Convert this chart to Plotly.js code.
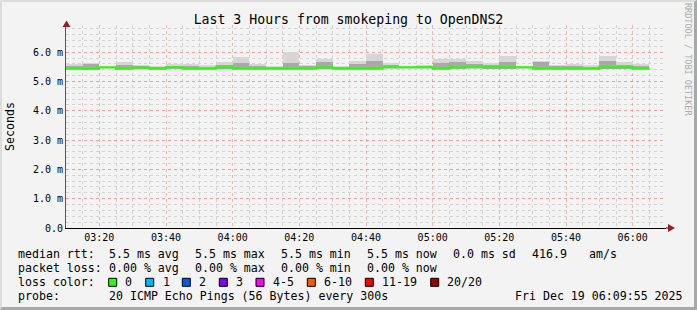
<!DOCTYPE html>
<html><head><meta charset="utf-8">
<script src="https://cdn.plot.ly/plotly-3.0.1.min.js"></script>
<style>
html,body{margin:0;padding:0;background:#f3f3f3}
#wrap{position:relative;width:697px;height:310px}
#chart{width:697px;height:310px}
#frame{position:absolute;left:0;top:0;width:697px;height:310px;box-sizing:border-box;border-top:2px solid #dcdcdc;border-left:2px solid #dcdcdc;border-right:3px solid #a8a8a8;border-bottom:3px solid #a8a8a8;pointer-events:none}
</style></head><body>
<div id="wrap"><div id="chart"></div><div id="frame"></div></div>
<script>
// ---- data (milliseconds, 5-minute steps) ----
const day = '2025-12-19 ';
const slotStarts = ['03:10','03:15','03:20','03:25','03:30','03:35','03:40','03:45','03:50','03:55',
  '04:00','04:05','04:10','04:15','04:20','04:25','04:30','04:35','04:40','04:45',
  '04:50','04:55','05:00','05:05','05:10','05:15','05:20','05:25','05:30','05:35',
  '05:40','05:45','05:50','05:55','06:00'];
const medianRtt = [5.44,5.44,5.49,5.44,5.48,5.44,5.49,5.44,5.44,5.49,
  5.44,5.44,5.44,5.44,5.44,5.49,5.44,5.44,5.44,5.49,
  5.49,5.49,5.44,5.49,5.49,5.49,5.49,5.49,5.44,5.44,
  5.44,5.44,5.49,5.49,5.44];
const smokeMin = [5.40,5.38,5.43,5.41,5.40,5.41,5.42,5.40,5.41,5.40,
  5.41,5.41,5.41,5.41,5.41,5.40,5.41,5.41,5.40,5.43,
  5.43,5.43,5.41,5.42,5.43,5.42,5.42,5.44,5.40,5.41,
  5.41,5.41,5.42,5.42,5.40];
const smokeMax = [5.60,5.62,5.52,5.65,5.58,5.52,5.60,5.60,5.55,5.68,
  5.83,5.60,5.52,6.00,5.58,5.77,5.52,5.71,5.94,5.62,
  5.53,5.58,5.77,5.77,5.69,5.62,5.86,5.52,5.71,5.57,
  5.60,5.55,5.86,5.65,5.60];
const smokeCoreHi = [5.52,5.60,5.51,5.55,5.52,5.48,5.54,5.54,5.50,5.58,
  5.62,5.54,5.48,5.62,5.52,5.68,5.48,5.60,5.70,5.56,
  5.51,5.53,5.62,5.66,5.60,5.56,5.68,5.51,5.68,5.52,
  5.54,5.50,5.70,5.58,5.54];
const yTickVals = [0,1,2,3,4,5,6];
const yTickText = ['0.0','1.0 m','2.0 m','3.0 m','4.0 m','5.0 m','6.0 m'];
const lossLabels = ['0','1','2','3','4-5','6-10','11-19','20/20'];
const lossColors = ['#26ff00','#00b8ff','#0059ff','#7e00ff','#ff00ff','#ff5500','#ff0000','#a10000'];

// ---- helpers ----
const STEP = 300000;
const t0 = s => new Date(day.replace(' ','T') + s + ':00Z').getTime();
const fmt = ms => { const d = new Date(ms); const p = n => String(n).padStart(2,'0');
  return '2025-12-19 ' + p(d.getUTCHours()) + ':' + p(d.getUTCMinutes()) + ':' + p(d.getUTCSeconds()); };
const mids = slotStarts.map(s => fmt(t0(s) + STEP/2));

const L = 66, R = 666, T = 25, B = 228, W = 697, H = 310;
const px = x => (x - L) / (R - L);
const py = y => (B - y) / (B - T);

const font = 'DejaVu Sans Mono, monospace';

const traces = [
  { type:'bar', x: mids, base: smokeMin, y: smokeMax.map((v,i)=>v - smokeMin[i]), width: STEP,
    marker:{color:'#d6d6d6', line:{width:0}}, hoverinfo:'skip', showlegend:false },
  { type:'bar', x: mids, base: smokeMin.map(v=>v+0.02), y: smokeCoreHi.map((v,i)=>v - smokeMin[i] - 0.02), width: STEP,
    marker:{color:'#a9a9a9', line:{width:0}}, hoverinfo:'skip', showlegend:false },
  { type:'scatter', mode:'lines', line:{shape:'hv', color:lossColors[0], width:2},
    x: slotStarts.map(s => day + s + ':00').concat([fmt(t0(slotStarts[slotStarts.length-1]) + STEP)]),
    y: medianRtt.concat([medianRtt[medianRtt.length-1]]), hoverinfo:'skip', showlegend:false }
];

const ann = [];
const shapes = [];
function txt(x, y, s, size, extra){ ann.push(Object.assign({xref:'paper', yref:'paper', x:px(x), y:py(y), text:s,
  showarrow:false, xanchor:'left', yanchor:'middle', font:{family:font, size:size||11.6, color:'#000'}}, extra||{})); }

// legend lines
txt(16,254.3,'median rtt:'); txt(107.3,254.3,'5.5 ms avg'); txt(193.3,254.3,'5.5 ms max'); txt(279.3,254.3,'5.5 ms min');
txt(365.3,254.3,'5.5 ms now'); txt(451,254.3,'0.0 ms sd'); txt(530,254.3,'416.9'); txt(586.7,254.3,'am/s');
txt(16,267.7,'packet loss:'); txt(107.3,267.7,'0.00 % avg'); txt(193.3,267.7,'0.00 % max'); txt(279.3,267.7,'0.00 % min');
txt(365.3,267.7,'0.00 % now');
txt(16,282.3,'loss color:');
const boxX = [108.7,145.7,182.3,219.3,256,307.3,365.3,430.7];
const labX = [123.3,160.7,197.3,234.3,271,321.7,380.3,445.3];
lossLabels.forEach((l,i)=>{
  shapes.push({type:'rect', xref:'paper', yref:'paper', x0:px(boxX[i]), x1:px(boxX[i]+8), y0:py(278.3), y1:py(286.3),
    fillcolor:lossColors[i], line:{color:'#000', width:1}});
  txt(labX[i],282.3,l);
});
txt(16,295.7,'probe:'); txt(107.3,295.7,'20 ICMP Echo Pings (56 Bytes) every 300s'); txt(513.3,295.7,'Fri Dec 19 06:09:55 2025');
// watermark
ann.push({xref:'paper', yref:'paper', x:px(688), y:py(59), text:'RRDTOOL / TOBI OETIKER', textangle:90, showarrow:false,
  xanchor:'center', yanchor:'middle', font:{family:font, size:8.5, color:'#ababab'}});

// axis arrows
shapes.push({type:'path', xref:'paper', yref:'paper', fillcolor:'#9a1c1c', line:{width:0},
  path:`M ${px(62.5)} ${py(27)} L ${px(70.5)} ${py(27)} L ${px(66.5)} ${py(20.5)} Z`});
shapes.push({type:'line', xref:'paper', yref:'paper', x0:px(666), x1:px(669), y0:0, y1:0, line:{color:'#000', width:1}});
shapes.push({type:'path', xref:'paper', yref:'paper', fillcolor:'#9a1c1c', line:{width:0},
  path:`M ${px(668)} ${py(224)} L ${px(668)} ${py(232)} L ${px(675)} ${py(228)} Z`});

const majorGrid = 'rgba(255,90,90,0.42)';
const minorGrid = '#d4d4d4';
const layout = {
  width: W, height: H,
  margin:{l:L, r:W-R, t:T, b:H-B, pad:0},
  paper_bgcolor:'#f3f3f3', plot_bgcolor:'#f3f3f3',
  barmode:'overlay', bargap:0,
  title:{text:'Last 3 Hours from smokeping to OpenDNS2', font:{family:font, size:13.2, color:'#000'},
    xref:'container', x:0.5, xanchor:'center', yref:'container', y:1-19.3/H, yanchor:'middle'},
  xaxis:{type:'date', range:[day+'03:10:00', day+'06:10:00'], tick0: day+'03:20:00', dtick:1200000, tickformat:'%H:%M',
    showgrid:true, gridcolor:majorGrid, griddash:'dot', gridwidth:1,
    minor:{dtick:300000, tick0: day+'03:20:00', showgrid:true, gridcolor:minorGrid, griddash:'dot', gridwidth:1, ticks:''},
    showline:true, linecolor:'#000', linewidth:1, ticks:'', zeroline:false, fixedrange:true,
    tickfont:{family:font, size:10, color:'#000'}},
  yaxis:{range:[0,6.93], tickvals:yTickVals, ticktext:yTickText,
    showgrid:true, gridcolor:majorGrid, griddash:'dot', gridwidth:1,
    minor:{dtick:0.2, tick0:0, showgrid:true, gridcolor:minorGrid, griddash:'dot', gridwidth:1, ticks:''},
    showline:true, linecolor:'#555', linewidth:1, ticks:'', zeroline:false, fixedrange:true,
    tickfont:{family:font, size:10, color:'#000'},
    title:{text:'Seconds', font:{family:font, size:11.6, color:'#000'}, standoff:15}},
  annotations: ann, shapes: shapes, showlegend:false
};
Plotly.newPlot('chart', traces, layout, {displayModeBar:false, staticPlot:true});
</script>
</body></html>
